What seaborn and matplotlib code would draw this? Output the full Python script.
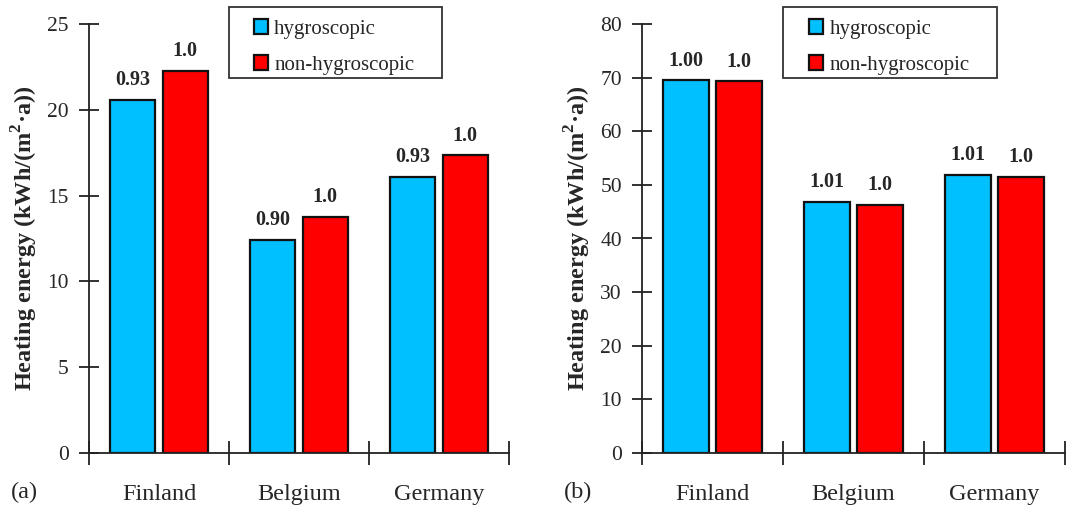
import matplotlib
matplotlib.use("Agg")
import matplotlib.pyplot as plt
import seaborn as sns
import pandas as pd
from matplotlib.patches import Rectangle

countries = ["Finland", "Belgium", "Germany"]
series = ["hygroscopic", "non-hygroscopic"]
hyg_a = [20.6, 12.4, 16.1]
non_a = [22.25, 13.75, 17.35]
ratio_hyg_a = ["0.93", "0.90", "0.93"]
ratio_non_a = ["1.0", "1.0", "1.0"]
hyg_b = [69.5, 46.8, 51.9]
non_b = [69.3, 46.3, 51.5]
ratio_hyg_b = ["1.00", "1.01", "1.01"]
ratio_non_b = ["1.0", "1.0", "1.0"]
ylim_a, yticks_a = 25, [0, 5, 10, 15, 20, 25]
ylim_b, yticks_b = 80, [0, 10, 20, 30, 40, 50, 60, 70, 80]
ylabel = "Heating energy (kWh/(m$^{\\mathbf{2}}$·a))"
panel_labels = ["(a)", "(b)"]

CYAN = "#00C0FF"
RED = "#FF0000"

sns.set_style("white")
plt.rcParams["font.family"] = ["Liberation Serif", "DejaVu Serif"]
plt.rcParams["mathtext.fontset"] = "custom"
plt.rcParams["mathtext.rm"] = "Liberation Serif"
plt.rcParams["mathtext.bf"] = "Liberation Serif:bold"

fig = plt.figure(figsize=(10.77, 5.13), dpi=100)
ax_a = fig.add_axes([89 / 1077, 60 / 513, 420 / 1077, 429 / 513])
ax_b = fig.add_axes([642 / 1077, 60 / 513, 423 / 1077, 429 / 513])


def panel(ax, hyg, non, rh, rn, ymax, yticks, plabel, leg_x):
    df = pd.DataFrame({
        "country": countries * 2,
        "type": [series[0]] * 3 + [series[1]] * 3,
        "value": list(hyg) + list(non),
    })
    sns.barplot(data=df, x="country", y="value", hue="type",
                order=countries, hue_order=series,
                palette=[CYAN, RED], width=0.75, gap=0.14,
                edgecolor="#111111", linewidth=1.6, saturation=1,
                ax=ax, legend=True)
    ax.bar_label(ax.containers[0], labels=rh, padding=7,
                 fontsize=14.5, fontweight="bold")
    ax.bar_label(ax.containers[1], labels=rn, padding=7,
                 fontsize=14.5, fontweight="bold")
    ax.set_ylim(0, ymax)
    ax.set_yticks(yticks)
    ax.set_xlim(-0.5, 2.5)
    ax.set_xticks([-0.5, 0.5, 1.5, 2.5])
    ax.set_xticklabels([])
    ax.set_xticks([0, 1, 2], minor=True)
    ax.set_xticklabels(countries, minor=True, fontsize=17.5)
    ax.tick_params(axis="x", which="major", direction="inout", length=17,
                   width=1.3, color="#222222", bottom=True)
    ax.tick_params(axis="x", which="minor", length=0, pad=22, bottom=True)
    ax.tick_params(axis="y", direction="inout", length=15, width=1.3,
                   color="#222222", labelsize=15.5, pad=7, left=True)
    for s in ["top", "right"]:
        ax.spines[s].set_visible(False)
    for s in ["left", "bottom"]:
        ax.spines[s].set_color("#222222")
        ax.spines[s].set_linewidth(1.3)
    ax.set_xlabel("")
    ax.set_ylabel(ylabel, fontsize=17.5, fontweight="bold", labelpad=5)
    handles, labels = ax.get_legend_handles_labels()
    ax.get_legend().remove()
    ax.legend(handles, labels, loc="upper left",
              bbox_to_anchor=(leg_x, 1.011), frameon=False,
              fontsize=15, handlelength=0.68, handleheight=0.68,
              handletextpad=0.3, labelspacing=0.79, borderpad=0,
              borderaxespad=0)
    ax.add_patch(Rectangle((0.334, 0.874), 0.506, 0.166,
                           transform=ax.transAxes, fill=False,
                           edgecolor="#333333", linewidth=1.3,
                           clip_on=False))
    ax.text(-0.185, -0.093, plabel, transform=ax.transAxes,
            fontsize=17.5, ha="left", va="center")


panel(ax_a, hyg_a, non_a, ratio_hyg_a, ratio_non_a, ylim_a, yticks_a,
      panel_labels[0], 0.392)
panel(ax_b, hyg_b, non_b, ratio_hyg_b, ratio_non_b, ylim_b, yticks_b,
      panel_labels[1], 0.395)

fig.savefig("out.png", dpi=100)
